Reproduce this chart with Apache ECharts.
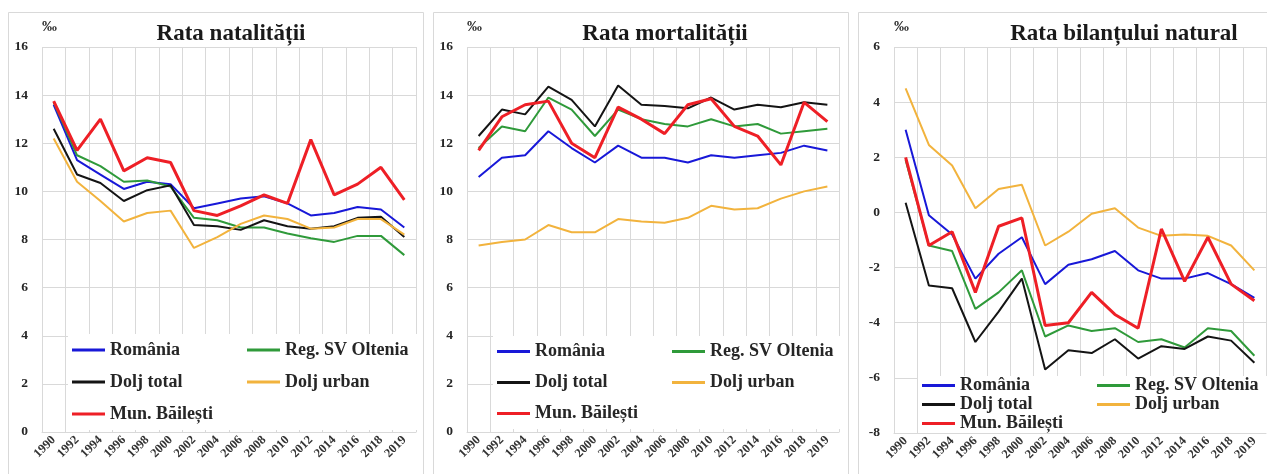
<!DOCTYPE html>
<html>
<head>
<meta charset="utf-8">
<script src="https://cdn.jsdelivr.net/npm/echarts@6.0.0/dist/echarts.min.js"></script>
<style>
  html, body { margin: 0; padding: 0; background: #fff; }
  #main { width: 1267px; height: 474px; }
</style>
</head>
<body>
<div id="main"></div>
<script>
// ani (categorii)
var years = ['1990', '1992', '1994', '1996', '1998', '2000', '2002', '2004', '2006', '2008',
  '2010', '2012', '2014', '2016', '2018', '2019'];
var seriesNames = ['România', 'Reg. SV Oltenia', 'Dolj total', 'Dolj urban', 'Mun. Băilești'];

// Rata natalitatii (‰)
var natRomania = [13.6, 11.3, 10.7, 10.1, 10.4, 10.3, 9.3, 9.5, 9.7, 9.8, 9.5, 9.0, 9.1, 9.35, 9.25, 8.5];
var natOltenia = [13.7, 11.5, 11.05, 10.4, 10.45, 10.2, 8.9, 8.8, 8.5, 8.5, 8.25, 8.05, 7.9, 8.15, 8.15, 7.35];
var natDoljTotal = [12.6, 10.7, 10.35, 9.6, 10.05, 10.25, 8.6, 8.55, 8.4, 8.8, 8.55, 8.45, 8.55, 8.9, 8.95, 8.1];
var natDoljUrban = [12.2, 10.4, 9.6, 8.75, 9.1, 9.2, 7.65, 8.1, 8.65, 9.0, 8.85, 8.45, 8.5, 8.85, 8.85, 8.2];
var natBailesti = [13.75, 11.7, 13.0, 10.85, 11.4, 11.2, 9.2, 9.0, 9.4, 9.85, 9.5, 12.15, 9.85, 10.3, 11.0, 9.65];

// Rata mortalitatii (‰)
var mortRomania = [10.6, 11.4, 11.5, 12.5, 11.8, 11.2, 11.9, 11.4, 11.4, 11.2, 11.5, 11.4, 11.5, 11.6, 11.9, 11.7];
var mortOltenia = [11.8, 12.7, 12.5, 13.9, 13.4, 12.3, 13.4, 13.0, 12.8, 12.7, 13.0, 12.7, 12.8, 12.4, 12.5, 12.6];
var mortDoljTotal = [12.3, 13.4, 13.2, 14.35, 13.8, 12.7, 14.4, 13.6, 13.55, 13.45, 13.9, 13.4, 13.6, 13.5, 13.7, 13.6];
var mortDoljUrban = [7.75, 7.9, 8.0, 8.6, 8.3, 8.3, 8.85, 8.75, 8.7, 8.9, 9.4, 9.25, 9.3, 9.7, 10.0, 10.2];
var mortBailesti = [11.7, 13.1, 13.6, 13.75, 12.0, 11.4, 13.5, 13.0, 12.4, 13.6, 13.85, 12.7, 12.3, 11.1, 13.7, 12.9];

// Rata bilantului natural (‰)
var bilRomania = [3.0, -0.1, -0.8, -2.4, -1.5, -0.9, -2.6, -1.9, -1.7, -1.4, -2.1, -2.4, -2.4, -2.2, -2.6, -3.1];
var bilOltenia = [1.9, -1.2, -1.4, -3.5, -2.9, -2.1, -4.5, -4.1, -4.3, -4.2, -4.7, -4.6, -4.9, -4.2, -4.3, -5.2];
var bilDoljTotal = [0.35, -2.65, -2.75, -4.7, -3.6, -2.4, -5.7, -5.0, -5.1, -4.6, -5.3, -4.85, -4.95, -4.5, -4.65, -5.45];
var bilDoljUrban = [4.5, 2.45, 1.7, 0.15, 0.85, 1.0, -1.2, -0.7, -0.05, 0.15, -0.55, -0.85, -0.8, -0.85, -1.2, -2.1];
var bilBailesti = [2.0, -1.2, -0.7, -2.9, -0.5, -0.2, -4.1, -4.0, -2.9, -3.7, -4.2, -0.6, -2.5, -0.9, -2.6, -3.2];

var serif = 'Liberation Serif';
var colors = ['#1818d8', '#2f9a3a', '#141414', '#f2b33d', '#ee1f26'];
var widths = [2, 2, 2, 2, 3];
var gridLine = '#d9d9d9';

var panels = [
  { title: 'Rata natalității', titleX: 226, grid: { left: 42, top: 47, width: 374, height: 385 },
    min: 0, max: 16, legend: { left: 68, top: 334, lineHeight: 32 },
    data: [natRomania, natOltenia, natDoljTotal, natDoljUrban, natBailesti] },
  { title: 'Rata mortalității', titleX: 660, grid: { left: 467, top: 47, width: 372, height: 385 },
    min: 0, max: 16, legend: { left: 493, top: 336, lineHeight: 31 },
    data: [mortRomania, mortOltenia, mortDoljTotal, mortDoljUrban, mortBailesti] },
  { title: 'Rata bilanțului natural', titleX: 1119, grid: { left: 894, top: 47, width: 372, height: 386 },
    min: -8, max: 6, legend: { left: 918, top: 376, lineHeight: 19 },
    data: [bilRomania, bilOltenia, bilDoljTotal, bilDoljUrban, bilBailesti] }
];

var option = {
  backgroundColor: '#fff',
  animation: false,
  title: [], grid: [], xAxis: [], yAxis: [], legend: [], series: [],
  graphic: []
};

// chenarele celor trei grafice
var boxes = [[8, 423], [433, 848], [858, 1275]];
boxes.forEach(function (b) {
  option.graphic.push({
    type: 'rect', z: -10,
    shape: { x: b[0] + 0.5, y: 12.5, width: b[1] - b[0], height: 500 },
    style: { fill: null, stroke: gridLine, lineWidth: 1 }
  });
});

panels.forEach(function (p, i) {
  option.title.push({
    text: p.title, left: p.titleX, top: 18, textAlign: 'center',
    textStyle: { fontFamily: serif, fontWeight: 'bold', fontSize: 23, color: '#1a1a1a' }
  });
  option.graphic.push({
    type: 'text', left: p.grid.left, top: 20,
    style: { text: '‰', font: 'bold 15px "Liberation Serif"', fill: '#262626' }
  });
  option.grid.push(p.grid);
  option.xAxis.push({
    type: 'category', gridIndex: i, data: years, boundaryGap: true,
    axisLine: { show: true, onZero: false, lineStyle: { color: gridLine } },
    axisTick: { show: false },
    splitLine: { show: true, interval: 0, lineStyle: { color: gridLine } },
    axisLabel: { interval: 0, rotate: 45, margin: 6, fontFamily: serif, fontWeight: 'bold', fontSize: 12.5, color: '#333' }
  });
  option.yAxis.push({
    type: 'value', gridIndex: i, min: p.min, max: p.max, interval: 2,
    axisLine: { show: false }, axisTick: { show: false },
    splitLine: { lineStyle: { color: gridLine } },
    axisLabel: { margin: 14, fontFamily: serif, fontWeight: 'bold', fontSize: 13.5, color: '#262626' }
  });
  option.legend.push({
    data: seriesNames, left: p.legend.left, top: p.legend.top, width: 362,
    orient: 'horizontal', icon: 'rect', itemWidth: 33, itemHeight: 3, itemGap: 0,
    padding: [0, 0, 0, 4], backgroundColor: '#fff', selectedMode: false,
    textStyle: { fontFamily: serif, fontWeight: 'bold', fontSize: 18, color: '#262626',
      width: 137, lineHeight: p.legend.lineHeight }
  });
  p.data.forEach(function (d, k) {
    option.series.push({
      name: seriesNames[k], type: 'line', xAxisIndex: i, yAxisIndex: i,
      data: d, showSymbol: false, symbol: 'none',
      lineStyle: { color: colors[k], width: widths[k] },
      itemStyle: { color: colors[k] }
    });
  });
});

var myChart = echarts.init(document.getElementById('main'));
myChart.setOption(option);
</script>
</body>
</html>
